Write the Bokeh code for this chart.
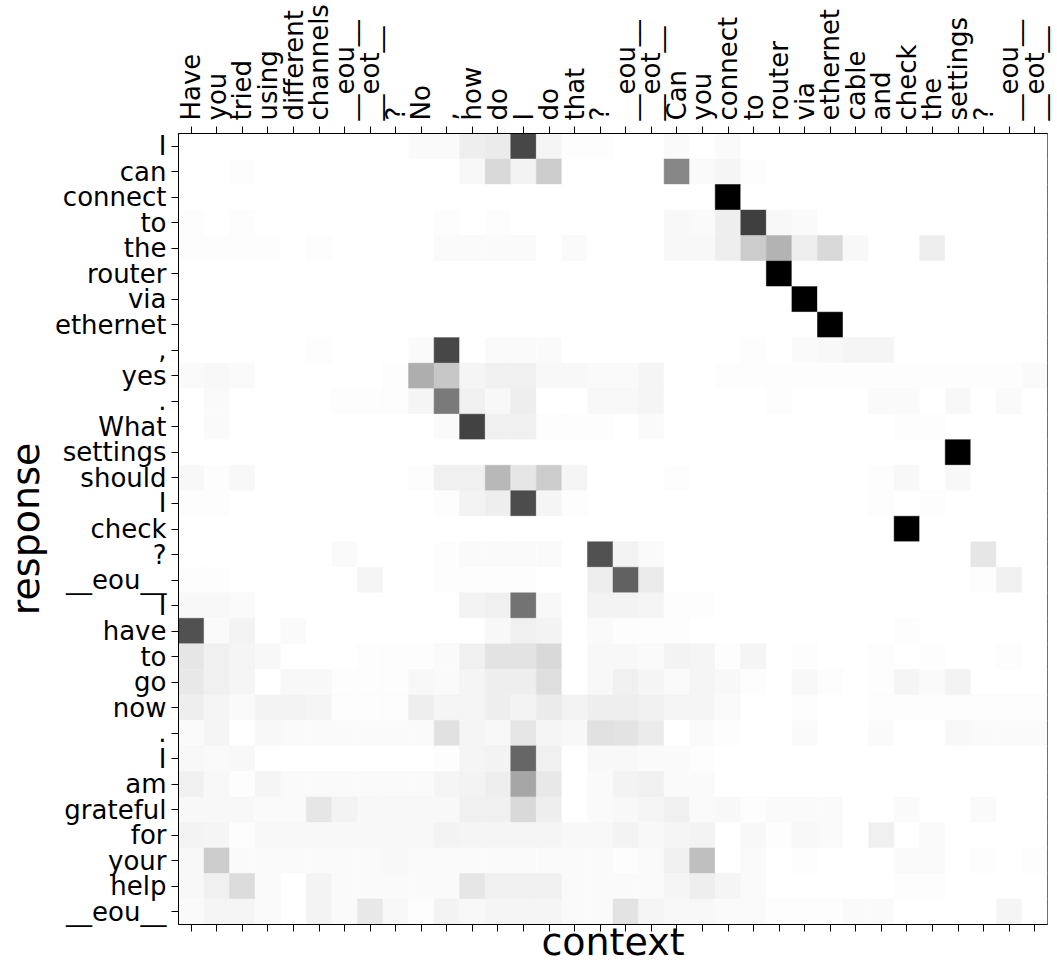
import math
from bokeh.plotting import figure
from bokeh.models import (Range1d, FixedTicker, LinearAxis, LinearColorMapper,
                          ColumnDataSource)
from bokeh.transform import transform
from bokeh.embed import file_html
from bokeh.resources import INLINE

context_tokens = ["Have", "you", "tried", "using", "different", "channels", "__eou__", "__eot__",
                  "?", "No", ",", "how", "do", "I", "do", "that", "?", "__eou__", "__eot__",
                  "Can", "you", "connect", "to", "router", "via", "ethernet", "cable", "and",
                  "check", "the", "settings", "?", "__eou__", "__eot__"]

response_tokens = ["I", "can", "connect", "to", "the", "router", "via", "ethernet", ",", "yes",
                   ".", "What", "settings", "should", "I", "check", "?", "__eou__", "I", "have",
                   "to", "go", "now", ".", "I", "am", "grateful", "for", "your", "help", "__eou__"]

# attention weight per response row: {context column: weight}; unlisted cells are 0
w_I1 = {9: .02, 10: .02, 11: .07, 12: .08, 13: .72, 14: .04, 15: .01, 16: .01, 19: .02, 21: .02}
w_can = {2: .01, 11: .03, 12: .15, 13: .05, 14: .2, 19: .47, 20: .02, 21: .04, 22: .01}
w_connect = {21: 1.0}
w_to1 = {0: .01, 2: .01, 10: .01, 12: .01, 19: .03, 20: .02, 21: .07, 22: .75, 23: .03, 24: .02}
w_the = {0: .01, 1: .01, 2: .01, 3: .01, 5: .01, 10: .02, 11: .02, 12: .02, 13: .02, 15: .02,
         19: .03, 20: .03, 21: .07, 22: .2, 23: .3, 24: .07, 25: .15, 26: .03, 29: .07}
w_router = {23: 1.0}
w_via = {24: 1.0}
w_ethernet = {25: 1.0}
w_comma = {5: .01, 9: .02, 10: .72, 12: .02, 13: .02, 14: .02, 22: .01, 24: .02, 25: .03,
           26: .04, 27: .04}
w_yes = {0: .02, 1: .03, 2: .02, 8: .01, 9: .32, 10: .22, 11: .04, 12: .06, 13: .06, 14: .03,
         15: .03, 16: .02, 17: .02, 18: .04, 21: .01, 22: .01, 23: .01, 24: .01, 25: .01,
         26: .01, 27: .01, 28: .01, 29: .01, 30: .01, 31: .01, 32: .01, 33: .02}
w_dot1 = {1: .02, 6: .01, 7: .01, 8: .01, 9: .04, 10: .52, 11: .06, 12: .03, 13: .07, 16: .03,
          17: .03, 18: .04, 23: .01, 27: .02, 28: .02, 30: .03, 32: .02}
w_what = {1: .02, 10: .02, 11: .74, 12: .06, 13: .06, 14: .01, 15: .01, 16: .01, 18: .02,
          28: .01, 29: .01}
w_settings = {30: 1.0}
w_should = {0: .03, 1: .01, 2: .03, 9: .01, 10: .06, 11: .06, 12: .28, 13: .1, 14: .2, 15: .04,
            19: .01, 27: .01, 28: .03, 30: .03}
w_I2 = {0: .01, 1: .01, 10: .01, 11: .05, 12: .07, 13: .7, 14: .04, 15: .01, 27: .01, 29: .01}
w_check = {28: 1.0}
w_qmark = {6: .02, 10: .01, 11: .02, 12: .02, 13: .02, 14: .02, 16: .68, 17: .05, 18: .02,
           31: .1}
w_eou1 = {0: .01, 1: .01, 7: .04, 10: .01, 11: .01, 12: .01, 13: .01, 16: .07, 17: .62,
          18: .08, 31: .01, 32: .06}
w_I3 = {0: .03, 1: .03, 2: .02, 11: .05, 12: .06, 13: .55, 14: .03, 16: .05, 17: .05, 18: .04,
        19: .01, 20: .01}
w_have = {0: .68, 1: .02, 2: .05, 4: .02, 12: .03, 13: .06, 14: .05, 16: .02, 17: .01, 18: .01,
          19: .01, 28: .01}
w_to2 = {0: .1, 1: .06, 2: .04, 3: .03, 7: .01, 8: .01, 9: .01, 10: .02, 11: .06, 12: .11,
         13: .11, 14: .15, 16: .03, 17: .03, 18: .02, 19: .05, 20: .04, 21: .01, 22: .04,
         24: .01, 27: .01, 29: .01, 32: .01}
w_go = {0: .09, 1: .06, 2: .04, 4: .03, 5: .03, 6: .01, 7: .01, 8: .01, 9: .03, 10: .02,
        11: .04, 12: .07, 13: .07, 14: .13, 16: .03, 17: .06, 18: .04, 19: .02, 20: .04,
        21: .03, 22: .01, 24: .03, 25: .01, 27: .01, 28: .04, 29: .02, 30: .05}
w_now = {0: .07, 1: .04, 2: .02, 3: .05, 4: .05, 5: .04, 6: .01, 7: .01, 8: .01, 9: .07,
         10: .04, 11: .04, 12: .07, 13: .05, 14: .08, 15: .05, 16: .07, 17: .07, 18: .06,
         19: .04, 20: .04, 21: .02, 24: .01, 27: .01, 28: .01, 29: .01, 30: .01, 31: .01,
         32: .01, 33: .01}
w_dot2 = {0: .02, 1: .04, 3: .03, 4: .02, 5: .02, 6: .02, 7: .02, 8: .02, 9: .02, 10: .12,
          11: .04, 12: .03, 13: .1, 14: .04, 15: .03, 16: .12, 17: .11, 18: .08, 20: .02,
          21: .01, 24: .02, 27: .02, 30: .03, 31: .02, 32: .02, 33: .02}
w_I4 = {0: .03, 1: .02, 2: .03, 10: .01, 11: .04, 12: .05, 13: .6, 14: .06, 16: .03, 17: .03,
        18: .02, 19: .02, 20: .01}
w_am = {0: .06, 1: .03, 2: .01, 3: .04, 4: .02, 5: .02, 6: .02, 7: .02, 8: .02, 9: .02,
        10: .04, 11: .05, 12: .07, 13: .35, 14: .09, 16: .02, 17: .05, 18: .06, 19: .02,
        20: .02}
w_grateful = {0: .03, 1: .03, 2: .03, 3: .02, 4: .02, 5: .1, 6: .05, 7: .03, 8: .03, 9: .03,
              10: .03, 11: .06, 12: .06, 13: .15, 14: .07, 16: .02, 17: .03, 18: .04, 19: .06,
              20: .02, 21: .03, 22: .01, 23: .02, 24: .02, 25: .02, 28: .02, 31: .02}
w_for = {0: .05, 1: .04, 2: .01, 3: .03, 4: .03, 5: .03, 6: .03, 7: .03, 8: .03, 9: .03,
         10: .05, 11: .04, 12: .04, 13: .04, 14: .04, 15: .03, 16: .03, 17: .05, 18: .03,
         19: .04, 20: .05, 22: .03, 23: .01, 24: .03, 25: .02, 27: .06, 29: .02}
w_your = {0: .03, 1: .2, 2: .02, 3: .02, 4: .02, 5: .02, 6: .02, 7: .02, 8: .03, 9: .02,
          10: .02, 11: .02, 12: .02, 13: .02, 14: .02, 15: .02, 16: .02, 17: .01, 18: .02,
          19: .06, 20: .25, 22: .02, 24: .01, 28: .02, 29: .02, 31: .01, 33: .01}
w_help = {0: .03, 1: .06, 2: .14, 3: .02, 5: .05, 6: .02, 7: .02, 8: .02, 9: .02, 10: .02,
          11: .1, 12: .06, 13: .06, 14: .06, 15: .02, 16: .02, 17: .02, 18: .02, 19: .04,
          20: .07, 21: .04, 22: .02, 28: .01, 29: .01}
w_eou2 = {0: .02, 1: .04, 2: .04, 3: .02, 5: .05, 6: .02, 7: .09, 8: .03, 9: .01, 10: .05,
          11: .03, 12: .04, 13: .04, 14: .04, 15: .02, 16: .02, 17: .11, 18: .04, 19: .03,
          20: .03, 21: .02, 22: .02, 23: .01, 24: .01, 25: .01, 26: .02, 27: .02, 32: .04}

rows = [w_I1, w_can, w_connect, w_to1, w_the, w_router, w_via, w_ethernet, w_comma, w_yes,
        w_dot1, w_what, w_settings, w_should, w_I2, w_check, w_qmark, w_eou1, w_I3, w_have,
        w_to2, w_go, w_now, w_dot2, w_I4, w_am, w_grateful, w_for, w_your, w_help, w_eou2]

xs, ys, vs = [], [], []
for r, row in enumerate(rows):
    for c in range(len(context_tokens)):
        xs.append(c)
        ys.append(r)
        vs.append(row.get(c, 0.0))
src = ColumnDataSource(dict(x=xs, y=ys, v=vs))

nx, ny = len(context_tokens), len(response_tokens)
FONT = "DejaVu Sans"

palette = ["#%02x%02x%02x" % (g, g, g) for g in range(255, -1, -1)]
mapper = LinearColorMapper(palette=palette, low=0, high=1)

p = figure(frame_width=869, frame_height=791,
           x_range=Range1d(-0.5, nx - 0.5), y_range=Range1d(ny - 0.5, -0.5),
           x_axis_location="above", output_backend="svg", toolbar_location=None,
           min_border_left=177, min_border_top=133, min_border_right=10, min_border_bottom=0,
           background_fill_color="white", border_fill_color="white")
p.grid.visible = False
p.outline_line_color = "black"
p.outline_line_width = 1

p.rect(x="x", y="y", width=1, height=1, source=src,
       fill_color=transform("v", mapper), line_color=transform("v", mapper), line_width=0.5)

def style_axis(ax):
    ax.major_tick_out = 7
    ax.major_tick_in = 0
    ax.minor_tick_out = 0
    ax.minor_tick_in = 0
    ax.major_tick_line_color = "black"
    ax.axis_line_color = "black"
    ax.major_label_text_font = FONT
    ax.major_label_text_font_size = "26px"
    ax.major_label_text_color = "black"
    ax.axis_label_text_font = FONT
    ax.axis_label_text_font_size = "38px"
    ax.axis_label_text_font_style = "normal"
    ax.axis_label_text_color = "black"

top = p.xaxis[0]
style_axis(top)
top.ticker = FixedTicker(ticks=list(range(nx)))
top.major_label_overrides = {i: t for i, t in enumerate(context_tokens)}
top.major_label_orientation = math.pi / 2
top.major_label_standoff = 6

left = p.yaxis[0]
style_axis(left)
left.ticker = FixedTicker(ticks=list(range(ny)))
left.major_label_overrides = {i: t for i, t in enumerate(response_tokens)}
left.major_label_standoff = 5
left.axis_label = "response"
left.axis_label_standoff = 4

bottom = LinearAxis(ticker=FixedTicker(ticks=list(range(nx))))
style_axis(bottom)
bottom.major_label_overrides = {i: "" for i in range(nx)}
bottom.major_label_text_font_size = "0px"
bottom.major_label_standoff = 0
bottom.axis_label = "context"
bottom.axis_label_standoff = -12
p.add_layout(bottom, "below")

open("out.html", "w").write(file_html(p, INLINE))
